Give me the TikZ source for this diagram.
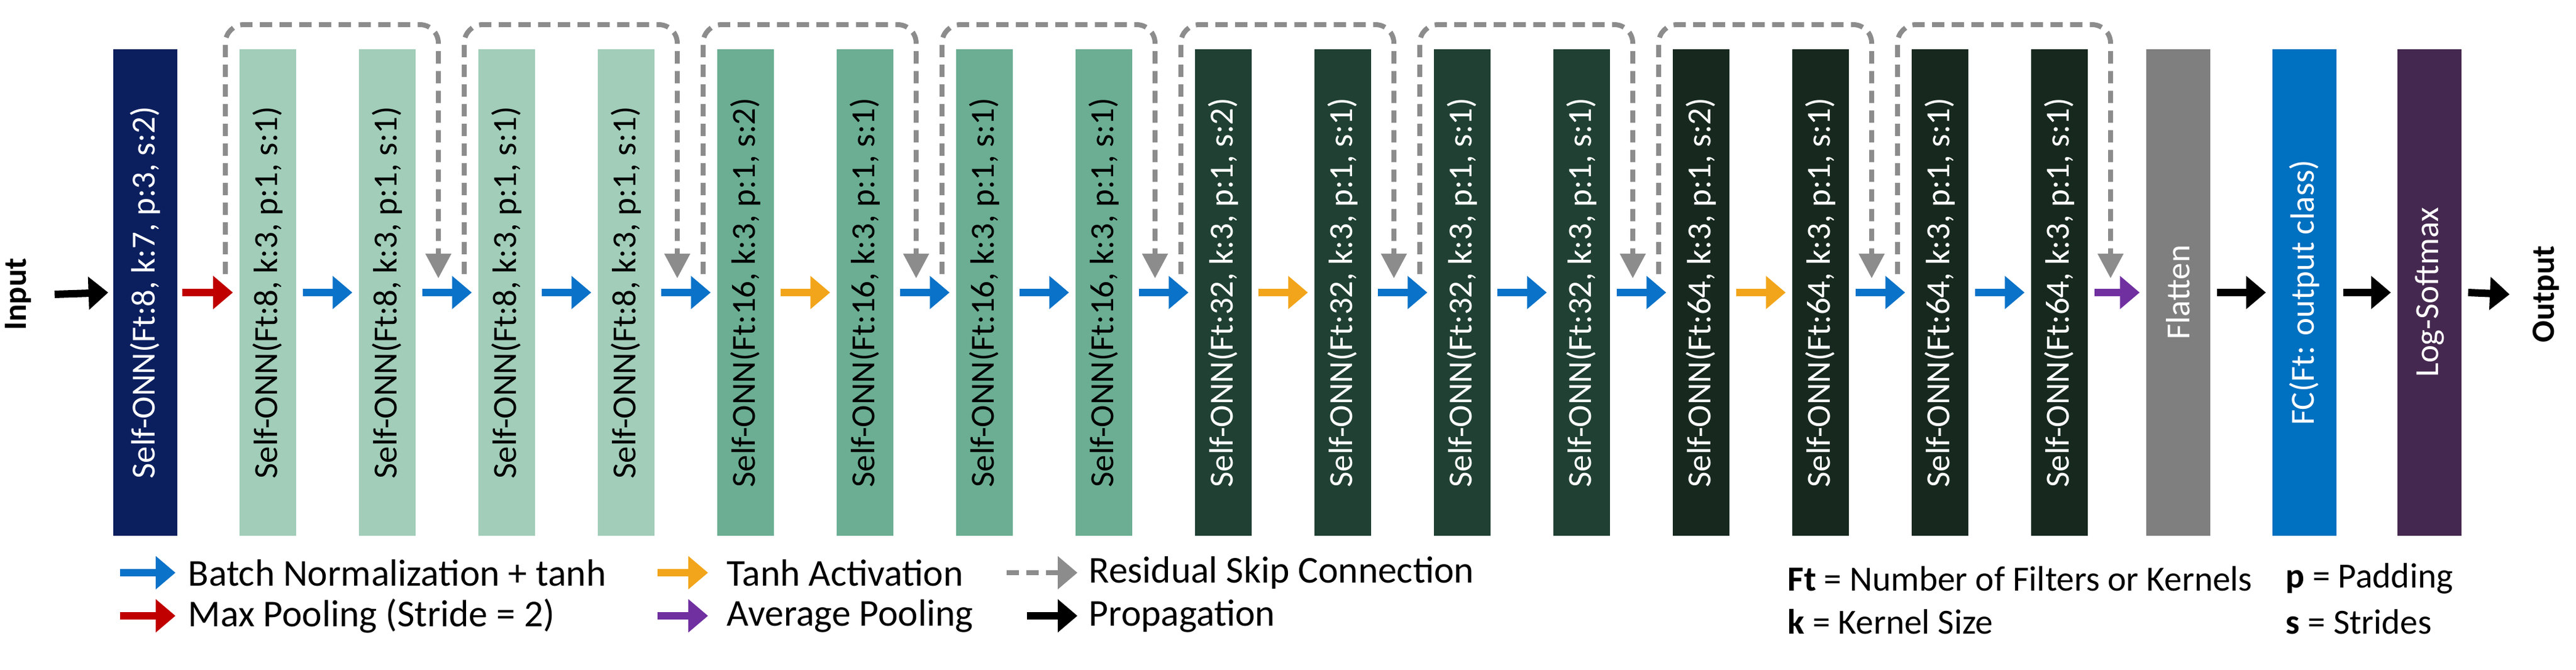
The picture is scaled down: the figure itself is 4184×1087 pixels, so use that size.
\documentclass[tikz,border=0pt]{standalone}
\usepackage{fontspec}
\setmainfont{Carlito}
\usetikzlibrary{arrows.meta}
\definecolor{cNavy}{HTML}{0B1F5E}
\definecolor{cLight}{HTML}{A1CDB9}
\definecolor{cMed}{HTML}{6BAE93}
\definecolor{cDark}{HTML}{1F4032}
\definecolor{cDarker}{HTML}{17291F}
\definecolor{cGray}{HTML}{7F7F7F}
\definecolor{cFC}{HTML}{0070C0}
\definecolor{cLog}{HTML}{45284F}
\definecolor{aBlue}{HTML}{0A72C8}
\definecolor{aRed}{HTML}{C00000}
\definecolor{aOrange}{HTML}{F2A51A}
\definecolor{aPurple}{HTML}{7030A0}
\definecolor{aGray}{HTML}{8C8C8C}
\begin{document}
\begin{tikzpicture}[x=0.01cm,y=-0.01cm,
  blk/.style={rotate=90,minimum width=7.9cm,minimum height=0.92cm,inner sep=0pt,font=\fontsize{15.6}{17}\selectfont,anchor=center},
  arr/.style={line width=0.12cm,-{Triangle[length=0.32cm,width=0.52cm]}},
  skip/.style={aGray,line width=0.08cm,dash pattern=on 0.2cm off 0.12cm,rounded corners=0.3cm,-{Triangle[length=0.4cm,width=0.4cm]}},
  lg/.style={anchor=west,font=\fontsize{17.5}{19}\selectfont,inner sep=0pt},
  lgr/.style={anchor=west,font=\fontsize{16.3}{18}\selectfont,inner sep=0pt},
  io/.style={rotate=90,font=\bfseries\fontsize{15}{17}\selectfont}]
\useasboundingbox (0,0) rectangle (4184,1087);
% blocks
\node[blk,fill=cNavy,text=white,minimum height=1.03cm] (b1) at (236,475) {Self-ONN(Ft:8, k:7, p:3, s:2)};
\foreach \i/\f/\s/\c/\t in {2/8/1/cLight/black,3/8/1/cLight/black,4/8/1/cLight/black,5/8/1/cLight/black,
  6/16/2/cMed/black,7/16/1/cMed/black,8/16/1/cMed/black,9/16/1/cMed/black,
  10/32/2/cDark/white,11/32/1/cDark/white,12/32/1/cDark/white,13/32/1/cDark/white,
  14/64/2/cDarker/white,15/64/1/cDarker/white,16/64/1/cDarker/white,17/64/1/cDarker/white}{
  \pgfmathsetmacro{\xx}{435+194*(\i-2)}
  \node[blk,fill=\c,text=\t] (b\i) at (\xx,475) {Self-ONN(Ft:\f, k:3, p:1, s:\s)};
}
\node[blk,fill=cGray,text=white,minimum height=1.04cm] (fl) at (3538,475) {Flatten};
\node[blk,fill=cFC,text=white,minimum height=1.04cm] (fc) at (3743,475) {FC(Ft: output class)};
\node[blk,fill=cLog,text=white,minimum height=1.04cm] (ls) at (3946,475) {Log-Softmax};
\node[io] (in) at (30,478) {Input};
\node[io] (out) at (4135,478) {Output};
% arrows
\draw[arr,black] ([xshift=0.25cm]in.south) -- ([xshift=-0.08cm]b1.north);
\draw[arr,aRed] ([xshift=0.08cm]b1.south) -- ([xshift=-0.1cm]b2.north);
\foreach \a/\b/\c in {2/3/aBlue,3/4/aBlue,4/5/aBlue,5/6/aBlue,6/7/aOrange,7/8/aBlue,8/9/aBlue,9/10/aBlue,
  10/11/aOrange,11/12/aBlue,12/13/aBlue,13/14/aBlue,14/15/aOrange,15/16/aBlue,16/17/aBlue}{
  \draw[arr,\c] ([xshift=0.1cm]b\a.south) -- ([xshift=-0.1cm]b\b.north);
}
\draw[arr,aPurple] ([xshift=0.1cm]b17.south) -- ([xshift=-0.1cm]fl.north);
\draw[arr,black] ([xshift=0.1cm]fl.south) -- ([xshift=-0.1cm]fc.north);
\draw[arr,black] ([xshift=0.1cm]fc.south) -- ([xshift=-0.1cm]ls.north);
\draw[arr,black] ([xshift=0.1cm]ls.south) -- ([xshift=-0.25cm]out.north);
% skips
\foreach \k in {0,...,7}{
  \pgfmathsetmacro{\sx}{366+388*\k}
  \pgfmathsetmacro{\ex}{712+388*\k}
  \coordinate (s\k) at (\sx,445);
  \coordinate (e\k) at (\ex,452);
  \draw[skip] (s\k) -- (\sx,40) -- (\ex,40) -- (e\k);
}
% legend
\draw[arr,aBlue] (195,930) -- (285,930);
\node[lg] (t1) at (305,930) {Batch Normalization + tanh};
\draw[arr,aRed] (195,1000) -- (285,1000);
\node[lg] (t2) at (305,1000) {Max Pooling (Stride = 2)};
\draw[arr,aOrange] (1068,930) -- (1150,930);
\node[lg] (t3) at (1180,930) {Tanh Activation};
\draw[arr,aPurple] (1068,1000) -- (1150,1000);
\node[lg] (t4) at (1180,1000) {Average Pooling};
\draw[aGray,line width=0.08cm,dash pattern=on 0.2cm off 0.12cm,-{Triangle[length=0.32cm,width=0.52cm]}] (1635,930) -- (1750,930);
\node[lg] (t5) at (1768,930) {Residual Skip Connection};
\draw[arr,black] (1668,1000) -- (1750,1000);
\node[lg] (t6) at (1768,1000) {Propagation};
\node[lgr] (t7) at (2903,940) {\textbf{Ft} = Number of Filters or Kernels};
\node[lgr] (t8) at (2903,1010) {\textbf{k} = Kernel Size};
\node[lgr] (t9) at (3712,940) {\textbf{p} = Padding};
\node[lgr] (t10) at (3712,1010) {\textbf{s} = Strides};
\end{tikzpicture}
\end{document}
